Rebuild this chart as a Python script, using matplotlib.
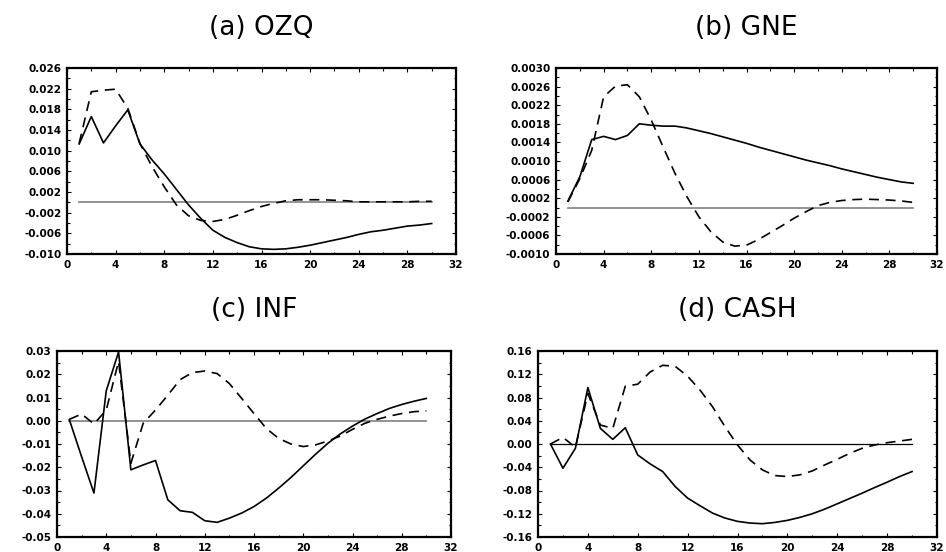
import numpy as np
import matplotlib
matplotlib.use("Agg")
import matplotlib.pyplot as plt
from matplotlib.ticker import FixedLocator, MultipleLocator, FormatStrFormatter

plt.rcParams["axes.unicode_minus"] = False

steps = list(range(1, 31))

# (a) OZQ
ozq_solid = [0.0113, 0.0166, 0.0115, 0.0148, 0.0179, 0.0113, 0.0082, 0.0055, 0.0025, -0.0005,
             -0.0031, -0.0054, -0.0068, -0.0078, -0.0086, -0.0090, -0.0091, -0.0090, -0.0087, -0.0083,
             -0.0078, -0.0073, -0.0068, -0.0062, -0.0057, -0.0054, -0.0050, -0.0046, -0.0044, -0.0041]
ozq_dash = [0.0114, 0.0214, 0.0217, 0.0219, 0.0182, 0.0114, 0.0069, 0.0030, -0.0005, -0.0026,
            -0.0035, -0.0037, -0.0033, -0.0025, -0.0016, -0.0008, -0.0002, 0.0003, 0.0005, 0.0005,
            0.0005, 0.0004, 0.0003, 0.0001, 0.0001, 0.0001, 0.0001, 0.0001, 0.0002, 0.0002]

# (b) GNE
gne_solid = [0.00014, 0.00066, 0.00146, 0.00153, 0.00146, 0.00155, 0.00180, 0.00177, 0.00175, 0.00175,
             0.00171, 0.00165, 0.00159, 0.00152, 0.00145, 0.00138, 0.00130, 0.00123, 0.00116, 0.00109,
             0.00102, 0.00096, 0.00090, 0.00083, 0.00077, 0.00071, 0.00065, 0.00060, 0.00055, 0.00052]
gne_dash = [0.00012, 0.00062, 0.00123, 0.00238, 0.00261, 0.00264, 0.00238, 0.00188, 0.00130, 0.00073,
            0.00023, -0.00020, -0.00052, -0.00074, -0.00083, -0.00081, -0.00069, -0.00054, -0.00039, -0.00023,
            -0.00009, 0.00004, 0.00011, 0.00015, 0.00017, 0.00018, 0.00017, 0.00016, 0.00014, 0.00011]

# (c) INF
inf_solid = [0.0005, -0.0155, -0.0311, 0.0129, 0.0296, -0.0211, -0.0190, -0.0171, -0.0340, -0.0387,
             -0.0394, -0.0430, -0.0437, -0.0419, -0.0397, -0.0369, -0.0333, -0.0290, -0.0244, -0.0194,
             -0.0144, -0.0097, -0.0057, -0.0023, 0.0007, 0.0031, 0.0053, 0.0070, 0.0084, 0.0096]
inf_dash = [0.0006, 0.0029, -0.0014, 0.0046, 0.0255, -0.0183, -0.0011, 0.0046, 0.0110, 0.0177,
            0.0207, 0.0214, 0.0203, 0.0160, 0.0096, 0.0031, -0.0033, -0.0076, -0.0100, -0.0111,
            -0.0104, -0.0087, -0.0066, -0.0037, -0.0011, 0.0006, 0.0020, 0.0031, 0.0039, 0.0043]

# (d) CASH
cash_solid = [0.0, -0.0417, -0.0074, 0.0971, 0.0269, 0.0080, 0.0280, -0.0189, -0.0343, -0.0474,
              -0.0731, -0.0931, -0.1063, -0.1189, -0.1274, -0.1331, -0.1360, -0.1371, -0.1349, -0.1314,
              -0.1263, -0.1200, -0.1120, -0.1029, -0.0937, -0.0846, -0.0749, -0.0657, -0.0560, -0.0474]
cash_dash = [0.0, 0.0114, -0.0057, 0.0869, 0.0326, 0.0269, 0.0994, 0.1029, 0.1240, 0.1354,
             0.1337, 0.1166, 0.0926, 0.0640, 0.0297, -0.0017, -0.0274, -0.0446, -0.0543, -0.0560,
             -0.0531, -0.0463, -0.0360, -0.0263, -0.0160, -0.0074, -0.0017, 0.0023, 0.0051, 0.0080]

titles = ["(a) OZQ", "(b) GNE", "(c) INF", "(d) CASH"]
solids = [ozq_solid, gne_solid, inf_solid, cash_solid]
dashes = [ozq_dash, gne_dash, inf_dash, cash_dash]
ylims = [(-0.010, 0.026), (-0.0010, 0.0030), (-0.05, 0.03), (-0.16, 0.16)]
ymajor = [0.004, 0.0004, 0.01, 0.04]
yfmt = ["%.3f", "%.4f", "%.2f", "%.2f"]
zero_colors = ["#808080", "#808080", "#808080", "black"]

# axes boxes in pixels: left, right, top, bottom
W, H = 946, 552
boxes = [(67, 456, 68, 254), (556, 937, 68, 254),
         (57, 451, 351, 537), (538, 937, 351, 537)]
title_y = [28, 28, 310, 310]

fig = plt.figure(figsize=(W / 100, H / 100), dpi=100)

for i in range(4):
    l, r, t, b = boxes[i]
    ax = fig.add_axes([l / W, 1 - b / H, (r - l) / W, (b - t) / H])
    ax.axhline(0, color=zero_colors[i], lw=1.2 if i < 3 else 0.9, xmin=1 / 32, xmax=30 / 32)
    ax.plot(steps, solids[i], color="black", lw=1.2)
    ax.plot(steps, dashes[i], color="black", lw=1.2, dashes=(6, 4))
    lo, hi = ylims[i]
    ax.set_xlim(0, 32)
    ax.set_ylim(lo, hi)
    n = int(round((hi - lo) / ymajor[i]))
    major = [lo + k * ymajor[i] for k in range(n + 1)]
    minor = [lo + (k + 0.5) * ymajor[i] for k in range(n)]
    major = [0.0 if abs(v) < 1e-12 else v for v in major]
    ax.xaxis.set_major_locator(MultipleLocator(4))
    ax.xaxis.set_minor_locator(MultipleLocator(2))
    ax.yaxis.set_major_locator(FixedLocator(major))
    ax.yaxis.set_minor_locator(FixedLocator(minor))
    ax.yaxis.set_major_formatter(FormatStrFormatter(yfmt[i]))
    ax.tick_params(which="both", direction="in", top=True, right=True,
                   labelsize=7.5, width=0.8, pad=4)
    ax.tick_params(which="major", length=3)
    ax.tick_params(which="minor", length=1.8)
    for lab in ax.get_xticklabels() + ax.get_yticklabels():
        lab.set_fontweight("bold")
    for sp in ax.spines.values():
        sp.set_linewidth(1.6)
    fig.text((l + r) / 2 / W, 1 - title_y[i] / H, titles[i], ha="center", va="center",
             fontsize=19)

fig.savefig("out.png", dpi=100)
